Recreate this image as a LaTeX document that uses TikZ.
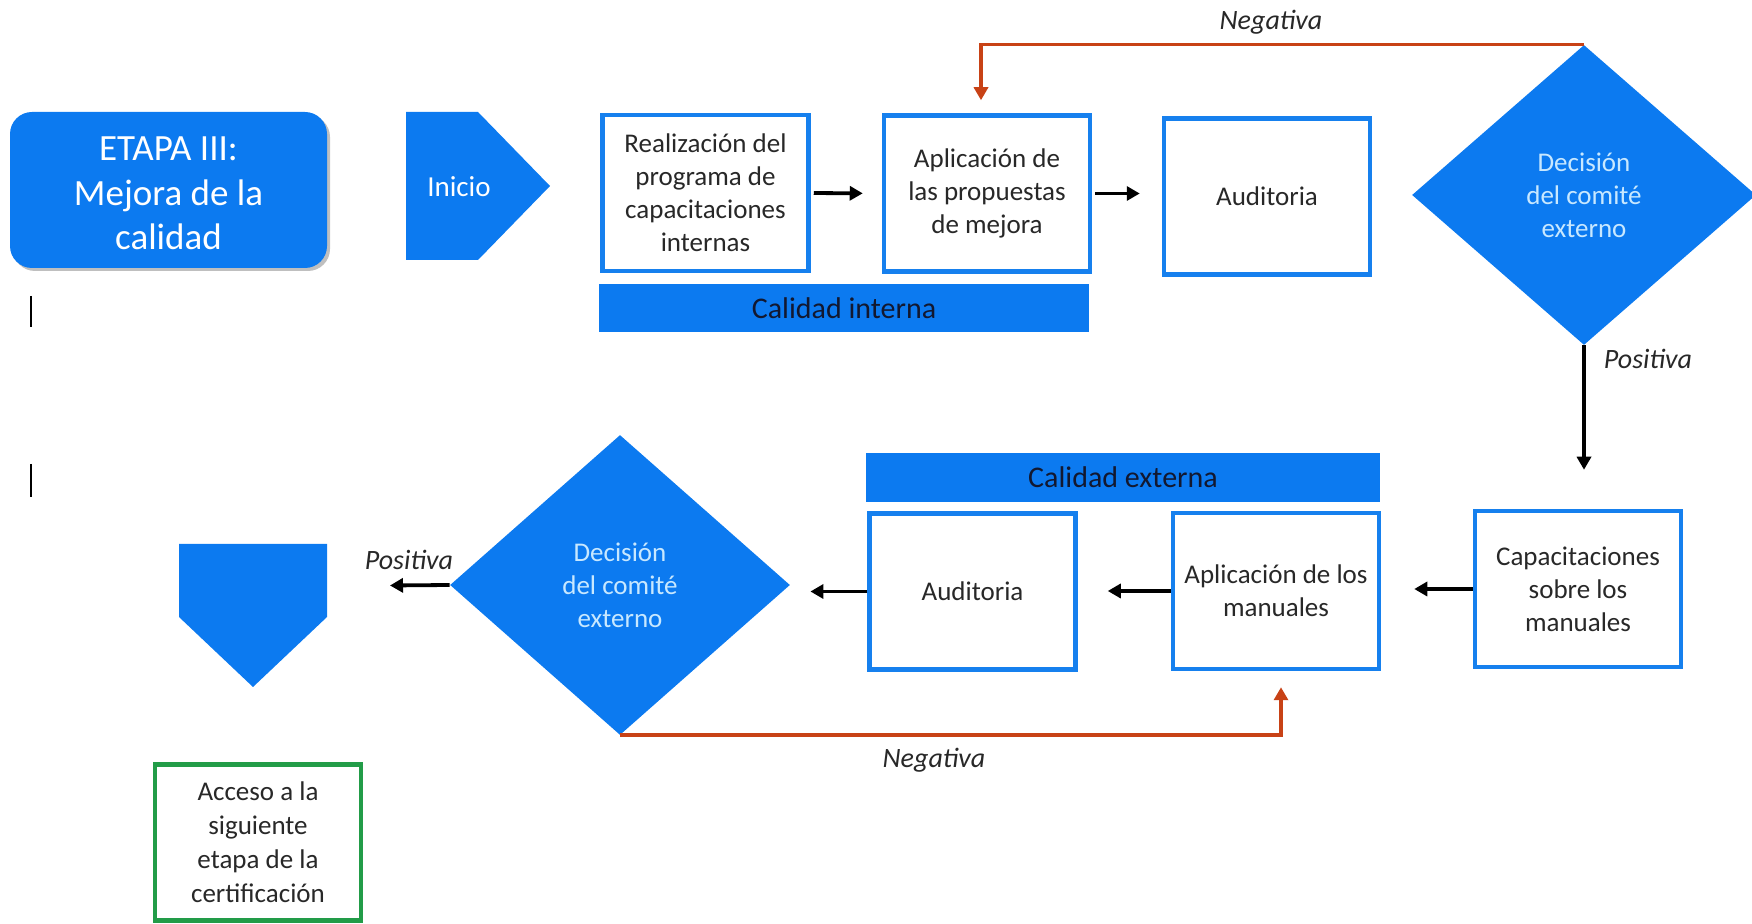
\documentclass[tikz,border=0pt]{standalone}
\usepackage{fontspec}
\setmainfont{Carlito}
\usetikzlibrary{arrows.meta,shapes.geometric,calc,shadows}

\definecolor{azul}{RGB}{12,122,240}
\definecolor{borde}{RGB}{22,128,238}
\definecolor{rojo}{RGB}{200,66,22}
\definecolor{verde}{RGB}{34,156,72}
\definecolor{texto}{RGB}{40,40,40}
\definecolor{claro}{RGB}{200,232,255}
\definecolor{marino}{RGB}{18,24,48}

\newcommand{\fsz}[2]{\fontsize{#1}{#2}\selectfont}

\begin{document}
\begin{tikzpicture}[x=0.5pt,y=-0.5pt,
  caja/.style={draw=borde, line width=2.25pt, fill=white, text=texto, align=center,
    inner sep=0pt, minimum width=103pt, minimum height=78pt, font=\fsz{13.5}{16.5}},
  barra/.style={fill=azul, text=marino, inner sep=0pt, font=\fsz{15}{18}},
  decision/.style={diamond, fill=azul, text=claro, align=center, inner sep=0pt,
    minimum width=172pt, minimum height=150pt, font=\fsz{13.5}{16.5}},
  flecha/.style={line width=1.9pt, -{Triangle[length=6.5pt,width=7pt]}},
  retorno/.style={draw=rojo, line width=1.9pt, -{Triangle[length=6.5pt,width=7pt]}},
  etiqueta/.style={font=\fsz{14}{17}\itshape, text=texto, inner sep=0pt},
]
\useasboundingbox (0,0) rectangle (1752,924);

% stage title
\node[fill=azul, rounded corners=11pt, minimum width=158.5pt, minimum height=78pt,
  inner sep=0pt,
  drop shadow={shadow xshift=1.5pt, shadow yshift=-1.5pt, opacity=0.25, fill=black}]
  (etapa) at (168.5,190) {};
\node[text=white, align=center, font=\fsz{18.5}{22.3}, inner sep=0pt]
  (etapatxt) at (168.5,193.5) {ETAPA III:\\Mejora de la\\calidad};

% small marks on the left margin
\draw[line width=1pt] (31,296) -- (31,327);
\draw[line width=1pt] (31,464) -- (31,497);

% start connector
\fill[azul] (406,112) -- (478,112) -- (550,186) -- (478,260) -- (406,260) -- cycle;
\node[text=white, font=\fsz{14.5}{17}, inner sep=0pt] (inicio) at (459,187) {Inicio};

% internal quality row
\node[caja] (b1) at (705.5,193) {Realización del\\programa de\\capacitaciones\\internas};
\node[caja] (b2) at (987,193.5) {Aplicación de\\las propuestas\\de mejora};
\node[caja] (b3) at (1267,196.5) {Auditoria};
\node[barra, minimum width=245pt, minimum height=24pt] (interna) at (844,308) {Calidad interna};
\node[decision] (d1) at (1584,195) {Decisión\\del comité\\externo};

% external quality row
\node[caja] (cap) at (1578,589) {Capacitaciones\\sobre los\\manuales};
\node[caja] (am) at (1276,591) {Aplicación de los\\manuales};
\node[caja] (au) at (972.5,591.5) {Auditoria};
\node[barra, minimum width=257pt, minimum height=24.5pt] (externa) at (1123,477.5) {Calidad externa};
\node[decision, minimum width=170pt] (d2) at (620,585) {Decisión\\del comité\\externo};

% off-page connector and final box
\fill[azul] (179,544) -- (327,544) -- (327,617) -- (253,687) -- (179,617) -- cycle;
\coordinate (fin) at (327,586);
\node[caja, draw=verde, font=\fsz{13.5}{17}] (acceso) at (258,842.5)
  {Acceso a la\\siguiente\\etapa de la\\certificación};

% flow
\draw[flecha, shorten <=1.5pt, shorten >=9.5pt] (b1.east) -- (b2.west);
\draw[flecha, shorten <=1.5pt, shorten >=11pt] (b2.east) -- (b2.east -| b3.west);
\draw[retorno] (d1.north) -| ($(b2.north)+(-6,-13)$);
\node[etiqueta] (neg1) at (1271,22) {Negativa};
\draw[flecha, shorten >=19.5pt] (d1.south) -- (d1.south |- cap.north);
\node[etiqueta] (pos1) at (1648,359) {Positiva};

\draw[flecha, shorten >=16.5pt] (cap.west) -- (cap.west -| am.east);
\draw[flecha, shorten >=15pt] (am.west) -- (am.west -| au.east);
\draw[flecha, shorten >=10pt] (au.west) -- (au.west -| d2.east);
\draw[flecha, shorten >=31.5pt] (d2.west) -- (fin);
\node[etiqueta] (pos2) at (409,560) {Positiva};
\draw[retorno] (d2.south) -| ($(am.south)+(5,16)$);
\node[etiqueta] (neg2) at (934,760) {Negativa};
\end{tikzpicture}
\end{document}
